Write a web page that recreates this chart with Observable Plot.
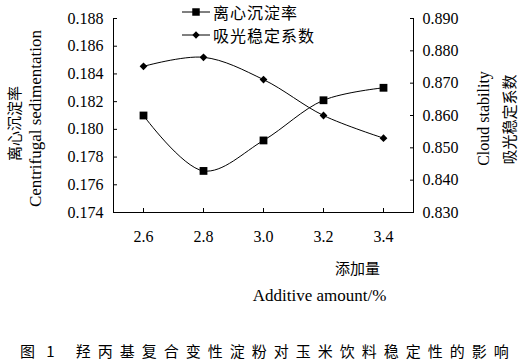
<!DOCTYPE html>
<html>
<head>
<meta charset="utf-8">
<script src="https://cdn.jsdelivr.net/npm/d3@7"></script>
<script src="https://cdn.jsdelivr.net/npm/@observablehq/plot@0.6"></script>
<style>
  body { margin: 0; background: #fff; }
  #wrap { position: relative; width: 527px; height: 363px; background: #fff; overflow: hidden; }
  #chart { position: absolute; left: 0; top: 0; }
  .legend { position: absolute; left: 182px; height: 20px; line-height: 20px; font-family: "Noto Sans CJK SC", sans-serif; font-size: 16px; letter-spacing: 1px; color: #000; white-space: nowrap; display: flex; align-items: center; }
  .legend svg { display: block; margin-right: 3px; }
  #caption { position: absolute; left: 20px; top: 340px; font-family: "Noto Sans CJK SC", sans-serif; font-size: 15px; line-height: 22px; color: #000; white-space: pre; }
  #caption .label { letter-spacing: 4px; }
  #caption .body { letter-spacing: 7px; margin-left: 17px; }
</style>
</head>
<body>
<div id="wrap">
  <div id="chart"></div>
  <div class="legend" id="leg0" style="top:2px"></div>
  <div class="legend" id="leg1" style="top:25px"></div>
  <div id="caption"></div>
</div>
<script>
// ---- data ----
const additive = [2.6, 2.8, 3.0, 3.2, 3.4];
const centrifugal = [0.1810, 0.1770, 0.1792, 0.1821, 0.1830];
const cloudStability = [0.8752, 0.8780, 0.8711, 0.8600, 0.8530];
const xTicks = [2.6, 2.8, 3.0, 3.2, 3.4];
const leftTicks = [0.174, 0.176, 0.178, 0.180, 0.182, 0.184, 0.186, 0.188];
const rightTicks = [0.830, 0.840, 0.850, 0.860, 0.870, 0.880, 0.890];
const seriesNames = ["离心沉淀率", "吸光稳定系数"];
const leftTitle = ["离心沉淀率", "Centrifugal sedimentation"];
const rightTitle = ["Cloud stability", "吸光稳定系数"];
const xTitle = ["添加量", "Additive amount/%"];
const captionLabel = "图 1";
const captionText = "羟丙基复合变性淀粉对玉米饮料稳定性的影响";

// ---- dual-axis mapping ----
const L0 = leftTicks[0], L1 = leftTicks[leftTicks.length - 1];
const R0 = rightTicks[0], R1 = rightTicks[rightTicks.length - 1];
const toLeft = r => L0 + (r - R0) * (L1 - L0) / (R1 - R0);
const toRight = l => R0 + (l - L0) * (R1 - R0) / (L1 - L0);

const rowsA = additive.map((x, i) => ({x, y: centrifugal[i]}));
const rowsB = additive.map((x, i) => ({x, y: toLeft(cloudStability[i])}));
const f3 = d3.format(".3f");

const serif = "'Liberation Serif', 'Times New Roman', serif";
const cjk = "'Noto Sans CJK SC', sans-serif";

const chart = Plot.plot({
  width: 527,
  height: 320,
  marginLeft: 113,
  marginRight: 114,
  marginTop: 18,
  marginBottom: 108,
  x: {domain: [2.5, 3.5]},
  y: {domain: [L0, L1]},
  style: {fontFamily: serif, fontSize: "16px", color: "#000", background: "#fff"},
  marks: [
    Plot.frame({anchor: "left", stroke: "#000"}),
    Plot.frame({anchor: "right", stroke: "#000"}),
    Plot.frame({anchor: "bottom", stroke: "#000"}),
    Plot.axisY({anchor: "left", ticks: leftTicks, tickFormat: f3, tickSize: -4, tickPadding: 14, label: null, fontSize: 16}),
    Plot.axisY({anchor: "right", ticks: rightTicks.map(toLeft), tickFormat: d => f3(toRight(d)), tickSize: -4, tickPadding: 13, label: null, fontSize: 16}),
    Plot.axisX({ticks: xTicks, tickFormat: d3.format(".1f"), tickSize: -4, tickPadding: 22, label: null, fontSize: 16}),
    Plot.line(rowsA, {x: "x", y: "y", curve: "catmull-rom", stroke: "#000", strokeWidth: 1}),
    Plot.line(rowsB, {x: "x", y: "y", curve: "catmull-rom", stroke: "#000", strokeWidth: 1}),
    Plot.dot(rowsA, {x: "x", y: "y", symbol: "square", r: 4.4, fill: "#000", stroke: null}),
    Plot.dot(rowsB, {x: "x", y: "y", symbol: "diamond2", r: 3.5, fill: "#000", stroke: null}),
    // left axis titles
    Plot.text([leftTitle[0]], {text: d => d, frameAnchor: "left", textAnchor: "middle", rotate: -90, dx: -98, dy: 8, fontFamily: cjk, fontSize: 15}),
    Plot.text([leftTitle[1]], {text: d => d, frameAnchor: "left", textAnchor: "middle", rotate: -90, dx: -78, dy: 3, fontFamily: serif, fontSize: 17}),
    // right axis titles
    Plot.text([rightTitle[0]], {text: d => d, frameAnchor: "right", textAnchor: "middle", rotate: -90, dx: 70, dy: 3, fontFamily: serif, fontSize: 16}),
    Plot.text([rightTitle[1]], {text: d => d, frameAnchor: "right", textAnchor: "middle", rotate: -90, dx: 97, dy: 4, fontFamily: cjk, fontSize: 15, letterSpacing: 2}),
    // x axis titles
    Plot.text([xTitle[0]], {text: d => d, frameAnchor: "bottom", textAnchor: "middle", dx: 94, dy: 61, fontFamily: cjk, fontSize: 15, letterSpacing: 2.5}),
    Plot.text([xTitle[1]], {text: d => d, frameAnchor: "bottom", textAnchor: "middle", dx: 56, dy: 88, fontFamily: serif, fontSize: 17, letterSpacing: 0.3})
  ]
});
document.getElementById("chart").appendChild(chart);

// ---- legend ----
function swatch(sym) {
  const ns = "http://www.w3.org/2000/svg";
  const s = document.createElementNS(ns, "svg");
  s.setAttribute("width", 28); s.setAttribute("height", 12);
  const ln = document.createElementNS(ns, "line");
  ln.setAttribute("x1", 0); ln.setAttribute("x2", 28); ln.setAttribute("y1", 6); ln.setAttribute("y2", 6);
  ln.setAttribute("stroke", "#000"); ln.setAttribute("stroke-width", 1);
  s.appendChild(ln);
  const p = document.createElementNS(ns, "path");
  p.setAttribute("d", d3.symbol(sym, sym === d3.symbolSquare ? 56 : 34)());
  p.setAttribute("transform", "translate(14,6)");
  p.setAttribute("fill", "#000");
  s.appendChild(p);
  return s;
}
[[d3.symbolSquare, seriesNames[0], "leg0"], [d3.symbolDiamond2, seriesNames[1], "leg1"]].forEach(([sym, name, id]) => {
  const el = document.getElementById(id);
  el.appendChild(swatch(sym));
  const t = document.createElement("span"); t.textContent = name; el.appendChild(t);
});

// ---- caption ----
const cap = document.getElementById("caption");
const a = document.createElement("span"); a.className = "label"; a.textContent = captionLabel; cap.appendChild(a);
const b = document.createElement("span"); b.className = "body"; b.textContent = captionText; cap.appendChild(b);
</script>
</body>
</html>
